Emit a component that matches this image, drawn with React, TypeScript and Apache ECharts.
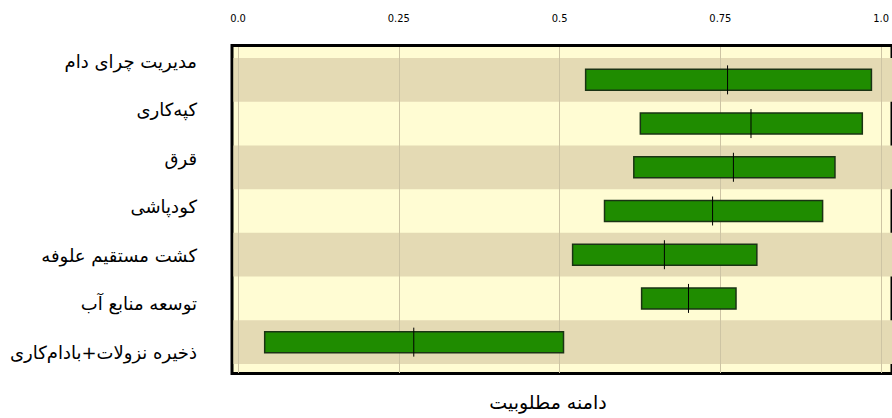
import React, { useEffect, useRef } from "react";
import * as echarts from "echarts";

const categories = [
  "مدیریت چرای دام",
  "کپه‌کاری",
  "قرق",
  "کودپاشی",
  "کشت مستقیم علوفه",
  "توسعه منابع آب",
  "ذخیره نزولات+بادام‌کاری",
];
const lowValues = [0.534, 0.618, 0.608, 0.563, 0.514, 0.62, 0.041];
const highValues = [0.973, 0.959, 0.917, 0.898, 0.797, 0.765, 0.5];
const medianValues = [0.752, 0.788, 0.761, 0.729, 0.655, 0.692, 0.27];
const xTickLabels = ["0.0", "0.25", "0.5", "0.75", "1.0"];
const xTickValues = [0, 0.25, 0.5, 0.75, 1];
const axisTitle = "دامنه مطلوبیت";

export default function App() {
  const ref = useRef<HTMLDivElement>(null);
  useEffect(() => {
    if (!ref.current) return;
    const chart = echarts.init(ref.current, null, { renderer: "svg" });
    const hidden = { show: false };
    const seriesData = categories.map((_, i) => [i, lowValues[i], highValues[i], medianValues[i]]);
    const option: any = {
      animation: false,
      backgroundColor: "#ffffff",
      grid: [
        { left: 232, top: 45.5, right: -20, bottom: 44.5, show: true, backgroundColor: "#fffcd3", borderColor: "#000", borderWidth: 3, z: 0 },
        { left: 233.5, top: 58, right: -20, bottom: 54, z: 1 },
        { left: 238, right: 3, top: 47, bottom: 45, z: 2 },
        { left: 238, right: 3, top: 58, bottom: 54, z: 3 },
        { left: 234, right: 3, top: 36.75, bottom: 41.75, z: 3 },
      ],
      xAxis: [
        { gridIndex: 0, type: "value", min: 0, max: 1, ...hidden },
        { gridIndex: 1, type: "value", min: 0, max: 1, ...hidden },
        {
          gridIndex: 2,
          type: "value",
          position: "top",
          min: 0,
          max: 1,
          interval: 0.25,
          z: 2,
          axisLine: { show: false },
          axisTick: { show: false },
          splitLine: { show: true, lineStyle: { color: "#cdc4a4", width: 1 } },
          axisLabel: {
            margin: 23,
            color: "#000",
            fontSize: 11,
            fontFamily: "'Liberation Sans Narrow', 'DejaVu Sans Condensed', sans-serif",
            formatter: (v: number) => {
              const idx = xTickValues.findIndex((t) => Math.abs(t - v) < 1e-6);
              return idx >= 0 ? xTickLabels[idx] : "";
            },
          },
        },
        { gridIndex: 3, type: "value", min: 0, max: 1, ...hidden },
        { gridIndex: 4, type: "value", min: 0, max: 1, ...hidden },
      ],
      yAxis: [
        { gridIndex: 0, type: "value", ...hidden },
        {
          gridIndex: 1,
          type: "category",
          inverse: true,
          data: categories,
          z: 1,
          axisLine: { show: false },
          axisTick: { show: false },
          axisLabel: { show: false },
          splitLine: { show: false },
          splitArea: { show: true, areaStyle: { color: ["#e4dab4", "rgba(0,0,0,0)"] } },
        },
        { gridIndex: 2, type: "value", ...hidden },
        { gridIndex: 3, type: "category", inverse: true, data: categories, ...hidden },
        {
          gridIndex: 4,
          type: "category",
          inverse: true,
          data: categories,
          axisLine: { show: false },
          axisTick: { show: false },
          splitLine: { show: false },
          axisLabel: {
            margin: 37,
            color: "#000",
            fontSize: 18,
            fontFamily: "'DejaVu Sans', serif",
          },
        },
      ],
      graphic: [
        {
          type: "text",
          x: 548,
          y: 402,
          style: {
            text: axisTitle,
            textAlign: "center",
            textVerticalAlign: "middle",
            fill: "#000",
            fontSize: 19,
            fontFamily: "'DejaVu Sans', serif",
          },
        },
      ],
      series: [
        {
          type: "custom",
          xAxisIndex: 3,
          yAxisIndex: 3,
          z: 5,
          encode: { x: [1, 2, 3], y: 0 },
          data: seriesData,
          renderItem: (params: any, api: any) => {
            const cat = api.value(0);
            const p1 = api.coord([api.value(1), cat]);
            const p2 = api.coord([api.value(2), cat]);
            const pm = api.coord([api.value(3), cat]);
            const bandH = api.size([0, 1])[1];
            const h = bandH * 0.48;
            return {
              type: "group",
              children: [
                {
                  type: "rect",
                  shape: { x: p1[0], y: p1[1] - h / 2, width: p2[0] - p1[0], height: h },
                  style: { fill: "#1f8c00", stroke: "#1a3314", lineWidth: 1.5 },
                },
                {
                  type: "line",
                  shape: { x1: pm[0], y1: pm[1] - h / 2 - 4, x2: pm[0], y2: pm[1] + h / 2 + 4 },
                  style: { stroke: "#000", lineWidth: 1 },
                },
              ],
            };
          },
        },
      ],
    };
    chart.setOption(option);
    return () => chart.dispose();
  }, []);
  return (
    <div
      ref={ref}
      style={{ position: "absolute", left: 0, top: 0, width: 892, height: 418 }}
    />
  );
}
